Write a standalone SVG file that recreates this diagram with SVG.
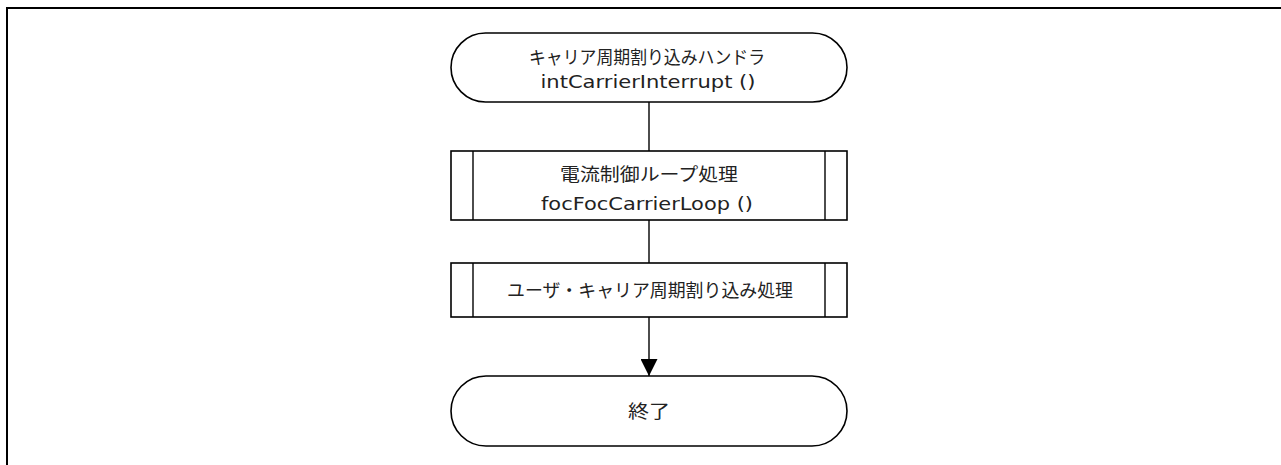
<svg xmlns="http://www.w3.org/2000/svg" width="1281" height="465" viewBox="0 0 1281 465">
<defs>
<style>
.frame{fill:none;stroke:#000;stroke-width:2}
.shape{fill:#fff;stroke:#000;stroke-width:1.6}
.sub{fill:none;stroke:#000;stroke-width:1.4}
.conn{fill:none;stroke:#000;stroke-width:1.4}
.t{font-family:"Noto Sans CJK JP","DejaVu Sans",sans-serif;font-size:18px;fill:#222;text-anchor:middle}
.l{font-family:"DejaVu Sans","Noto Sans CJK JP",sans-serif;font-size:17px;fill:#222;text-anchor:middle}
</style>
<marker id="arr" markerWidth="17" markerHeight="17" viewBox="0 0 17 17" refX="17" refY="8.5" orient="auto" markerUnits="userSpaceOnUse">
<path d="M0,0 L17,8.5 L0,17 Z" fill="#000"/>
</marker>
</defs>
<rect class="frame" x="7" y="8" width="1300" height="480"/>
<g id="connectors">
<line class="conn" x1="649" y1="102" x2="649" y2="151"/>
<line class="conn" x1="649" y1="220" x2="649" y2="263"/>
<line class="conn" x1="649" y1="317" x2="649" y2="376" marker-end="url(#arr)"/>
</g>
<g id="start">
<rect class="shape" x="451" y="33" width="396" height="69" rx="34.5" ry="34.5"/>
<text class="t" x="647" y="64" textLength="236" lengthAdjust="spacingAndGlyphs">キャリア周期割り込みハンドラ</text>
<text class="l" x="648" y="88" textLength="215" lengthAdjust="spacingAndGlyphs">intCarrierInterrupt ()</text>
</g>
<g id="foc">
<rect class="shape" x="451" y="151" width="396" height="69"/>
<line class="sub" x1="473" y1="151" x2="473" y2="220"/>
<line class="sub" x1="825" y1="151" x2="825" y2="220"/>
<text class="t" x="649" y="181" textLength="178" lengthAdjust="spacingAndGlyphs">電流制御ループ処理</text>
<text class="l" x="647" y="210" textLength="212" lengthAdjust="spacingAndGlyphs">focFocCarrierLoop ()</text>
</g>
<g id="user">
<rect class="shape" x="451" y="263" width="396" height="54"/>
<line class="sub" x1="473" y1="263" x2="473" y2="317"/>
<line class="sub" x1="825" y1="263" x2="825" y2="317"/>
<text class="t" x="650" y="297" textLength="286" lengthAdjust="spacingAndGlyphs">ユーザ・キャリア周期割り込み処理</text>
</g>
<g id="end">
<rect class="shape" x="451" y="376" width="396" height="70" rx="35" ry="35"/>
<text class="t" x="649" y="418" textLength="42" lengthAdjust="spacingAndGlyphs">終了</text>
</g>
</svg>
